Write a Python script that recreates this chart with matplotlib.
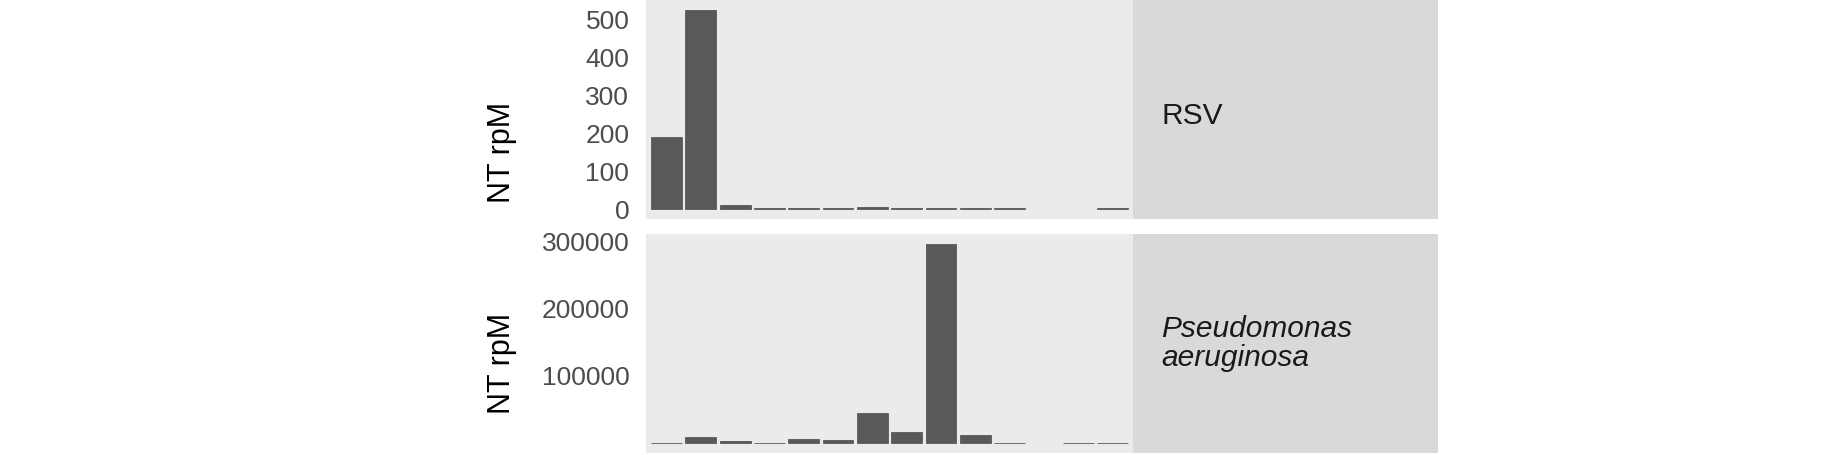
import numpy as np
import matplotlib
matplotlib.use("Agg")
import matplotlib.pyplot as plt

plt.rcParams["font.family"] = ["Liberation Sans", "DejaVu Sans"]

PANEL = "#EBEBEB"
STRIP = "#D9D9D9"
BAR = "#595959"
TICK = "#4D4D4D"

# 14 samples along x (no labels shown in the figure)
samples = [f"S{i}" for i in range(1, 15)]
rsv_rpm = [191, 526, 10, 2, 2, 2, 5, 2, 2, 2, 2, np.nan, np.nan, 2]
pa_rpm = [800, 8500, 2500, 800, 5500, 4700, 44000, 17000, 296000, 11300,
          600, np.nan, 600, 600]
panels = [
    ("RSV", "normal", rsv_rpm, [0, 100, 200, 300, 400, 500], 0.47),
    ("Pseudomonas\naeruginosa", "italic", pa_rpm, [100000, 200000, 300000], 0.5),
]

W, H = 1829, 455
fig = plt.figure(figsize=(W / 100, H / 100), dpi=100)

# pixel boxes (left, top, right, bottom)
px_l, px_r, strip_r = 646, 1133, 1438
rows = [(0, 219), (234, 453)]
label_y = [152, 363]


def fbox(l, t, r, b):
    return [l / W, 1 - b / H, (r - l) / W, (b - t) / H]


x = np.arange(1, len(samples) + 1)
for (name, style, vals, ticks, ty), (top, bot), ly in zip(panels, rows, label_y):
    ax = fig.add_axes(fbox(px_l, top, px_r, bot))
    ax.set_facecolor(PANEL)
    v = np.array(vals, dtype=float)
    keep = ~np.isnan(v)
    ax.bar(x[keep], v[keep], width=0.9, color=BAR, edgecolor=BAR, linewidth=0.6)
    vmax = np.nanmax(v)
    ax.set_xlim(0.4, len(samples) + 0.6)
    ax.set_ylim(-0.05 * vmax, 1.05 * vmax)
    ax.set_yticks(ticks)
    ax.set_yticklabels([str(t) for t in ticks])
    ax.set_xticks([])
    ax.tick_params(axis="y", length=0, pad=12, labelsize=19, labelcolor=TICK)
    for s in ax.spines.values():
        s.set_visible(False)
    fig.text(502 / W, 1 - ly / H, "NT rpM", rotation=90, ha="center",
             va="center", fontsize=22, color="black")

    sax = fig.add_axes(fbox(px_r, top, strip_r, bot))
    sax.set_facecolor(STRIP)
    sax.set_xticks([])
    sax.set_yticks([])
    for s in sax.spines.values():
        s.set_visible(False)
    sax.text(28 / (strip_r - px_r), ty, name, transform=sax.transAxes,
             ha="left", va="center", fontsize=21.5, style=style,
             color="#1A1A1A", linespacing=1.05)

fig.savefig("out.png", dpi=100, facecolor="white")
